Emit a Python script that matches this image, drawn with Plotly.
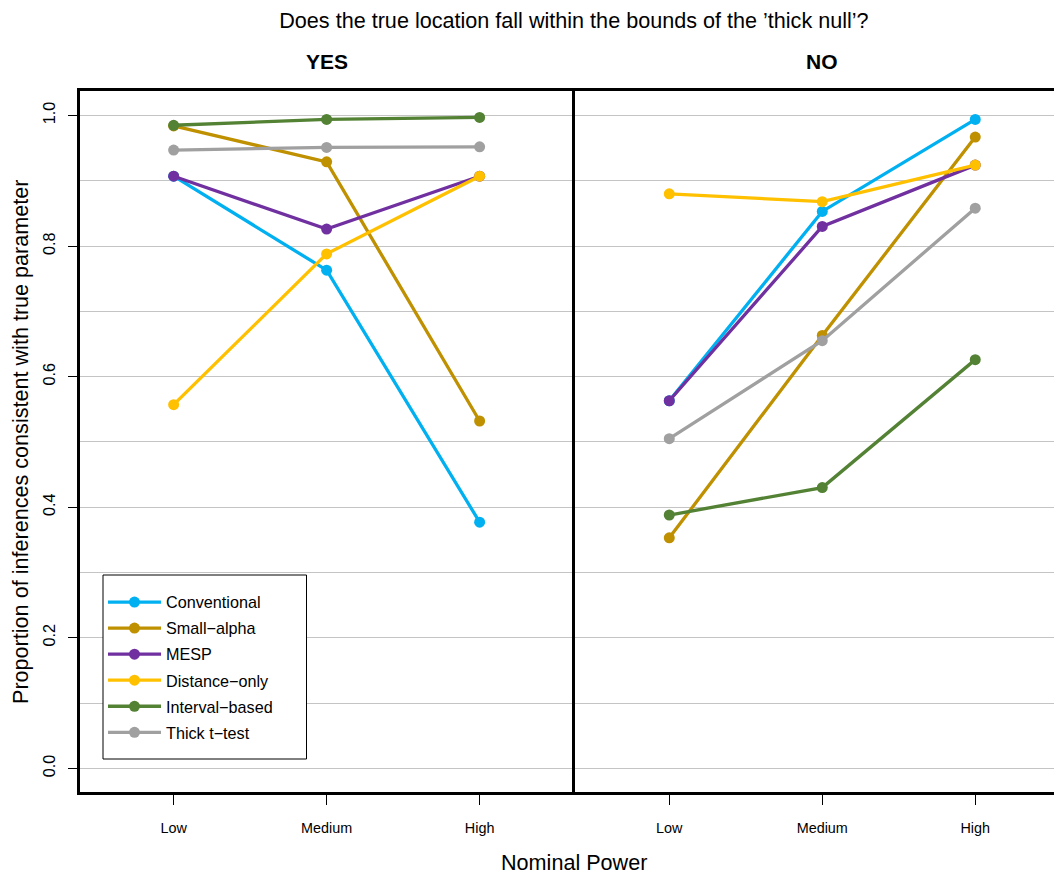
import plotly.graph_objects as go

# ---- data ----
power_levels = ["Low", "Medium", "High"]
methods = ["Conventional", "Small\u2212alpha", "MESP", "Distance\u2212only", "Interval\u2212based", "Thick t\u2212test"]
colors = ["#00B0F0", "#BF9000", "#7030A0", "#FFC000", "#548235", "#A0A0A0"]

# YES panel: true location falls within the thick null
yes_conventional = [0.907, 0.763, 0.377]
yes_small_alpha = [0.984, 0.929, 0.532]
yes_mesp = [0.907, 0.826, 0.907]
yes_distance_only = [0.557, 0.788, 0.907]
yes_interval_based = [0.985, 0.994, 0.997]
yes_thick_ttest = [0.947, 0.951, 0.952]

# NO panel: true location outside the thick null
no_conventional = [0.563, 0.853, 0.994]
no_small_alpha = [0.353, 0.663, 0.967]
no_mesp = [0.563, 0.830, 0.924]
no_distance_only = [0.880, 0.868, 0.924]
no_interval_based = [0.388, 0.430, 0.626]
no_thick_ttest = [0.505, 0.655, 0.858]

yes_values = [yes_conventional, yes_small_alpha, yes_mesp, yes_distance_only, yes_interval_based, yes_thick_ttest]
no_values = [no_conventional, no_small_alpha, no_mesp, no_distance_only, no_interval_based, no_thick_ttest]

FONT = "Liberation Sans, Arial, Helvetica, sans-serif"

fig = go.Figure()
for name, col, vals in zip(methods, colors, yes_values):
    fig.add_trace(go.Scatter(x=power_levels, y=vals, mode="lines+markers", name=name,
                             line=dict(color=col, width=3.3), marker=dict(color=col, size=11),
                             xaxis="x", yaxis="y", legendgroup=name, showlegend=True))
for name, col, vals in zip(methods, colors, no_values):
    fig.add_trace(go.Scatter(x=power_levels, y=vals, mode="lines+markers", name=name,
                             line=dict(color=col, width=3.3), marker=dict(color=col, size=11),
                             xaxis="x2", yaxis="y2", legendgroup=name, showlegend=False))

grid_col = "#C4C4C4"
common_x = dict(type="category", categoryorder="array", categoryarray=power_levels,
                showgrid=False, zeroline=False, showline=True, linecolor="black", linewidth=3,
                mirror=True, ticks="outside", ticklen=10, tickwidth=1, tickcolor="black",
                tickfont=dict(family=FONT, size=14.4, color="black"), ticklabelstandoff=11)
# page body adds an 8px offset; figure is sized so the page is 1062x875
W, H, L, T, B = 1054, 867, 72, 83, 83
PW, PH = W - L, H - T - B
fig.update_layout(
    width=W, height=H,
    margin=dict(l=L, r=0, t=T, b=B),
    paper_bgcolor="white", plot_bgcolor="white",
    font=dict(family=FONT, color="black"),
    xaxis=dict(domain=[0, 0.50153], range=[-0.612, 2.607], anchor="y", **common_x),
    xaxis2=dict(domain=[0.50458, 1], range=[-0.613, 2.567], anchor="y2", **common_x),
    yaxis=dict(range=[-0.0363, 1.0375], tickvals=[0, 0.2, 0.4, 0.6, 0.8, 1.0],
               ticktext=["0.0", "0.2", "0.4", "0.6", "0.8", "1.0"], tickangle=-90,
               showgrid=True, gridcolor=grid_col, gridwidth=1.2, zeroline=False,
               minor=dict(dtick=0.1, tick0=0, showgrid=True, gridcolor=grid_col, gridwidth=1.2, ticks=""),
               showline=True, linecolor="black", linewidth=3, mirror=False,
               ticks="outside", ticklen=9, tickwidth=1, tickcolor="black",
               tickfont=dict(family=FONT, size=16.2, color="black"), ticklabelstandoff=7,
               anchor="x"),
    yaxis2=dict(range=[-0.0363, 1.0375], matches="y", anchor="x2", showticklabels=False,
                tickvals=[0, 0.2, 0.4, 0.6, 0.8, 1.0],
                showgrid=True, gridcolor=grid_col, gridwidth=1.2, zeroline=False,
                minor=dict(dtick=0.1, tick0=0, showgrid=True, gridcolor=grid_col, gridwidth=1.2, ticks=""),
                showline=True, linecolor="black", linewidth=3, mirror=False, ticks=""),
    title=dict(text="Does the true location fall within the bounds of the \u2019thick null\u2019?",
               x=0.503, xref="paper", xanchor="center", y=1 - 12 / H, yref="container", yanchor="middle",
               font=dict(family=FONT, size=21.6, color="black")),
    legend=dict(x=(95 - L) / PW, y=(H - B - 577) / PH, xanchor="left", yanchor="top",
                bgcolor="rgba(0,0,0,0)", borderwidth=0,
                font=dict(family=FONT, size=16.2, color="black"),
                itemwidth=53, tracegroupgap=2),
    showlegend=True,
)

# legend frame (white box with thin black border)
fig.add_shape(type="rect", xref="paper", yref="paper", layer="above",
              x0=(95 - L) / PW, x1=(298.5 - L) / PW,
              y0=(H - B - 751) / PH, y1=(H - B - 567) / PH,
              line=dict(color="black", width=1), fillcolor="white")

fig.add_annotation(text="<b>YES</b>", x=1, xref="x", y=(H - B - 53) / PH, yref="paper",
                   showarrow=False, yanchor="middle", font=dict(family=FONT, size=21, color="black"))
fig.add_annotation(text="<b>NO</b>", x=1, xref="x2", y=(H - B - 53) / PH, yref="paper",
                   showarrow=False, yanchor="middle", font=dict(family=FONT, size=21, color="black"))
fig.add_annotation(text="Nominal Power", x=0.503, xref="paper", y=(H - B - 854) / PH, yref="paper",
                   showarrow=False, yanchor="middle", font=dict(family=FONT, size=21.6, color="black"))
fig.add_annotation(text="Proportion of inferences consistent with true parameter", textangle=-90,
                   x=(12.5 - L) / PW, xref="paper", y=0.5, yref="paper", xanchor="center",
                   showarrow=False, yanchor="middle", font=dict(family=FONT, size=21.6, color="black"))

fig.write_html("out.html")
